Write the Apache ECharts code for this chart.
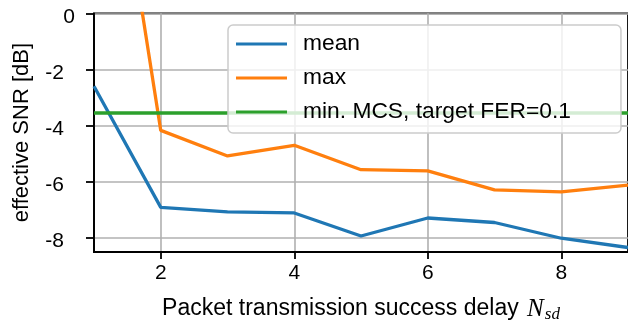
<!DOCTYPE html>
<html>
<head>
<meta charset="utf-8">
<script src="https://cdn.jsdelivr.net/npm/echarts@6/dist/echarts.min.js"></script>
<style>
html,body{margin:0;padding:0;background:#fff;}
#chart{width:628px;height:322px;}
</style>
</head>
<body>
<div id="chart"></div>
<script>
const xValues = [1, 2, 3, 4, 5, 6, 7, 8, 9];
const meanValues = [-2.60, -6.91, -7.07, -7.11, -7.93, -7.29, -7.45, -8.01, -8.34];
const maxValues = [11.0, -4.17, -5.08, -4.70, -5.57, -5.61, -6.29, -6.36, -6.12];
const thresholdValue = -3.55;
const xTicks = [2, 4, 6, 8];
const yTicks = [-8, -6, -4, -2, 0];
const seriesNames = ['mean', 'max', 'min. MCS, target FER=0.1'];
const xMin = 1, xMax = 9, yMin = -8.5, yMax = 0;

const FONT = '"Liberation Sans", Arial, Helvetica, sans-serif';
const chart = echarts.init(document.getElementById('chart'), null, {renderer: 'canvas'});

const meanData = xValues.map((x, i) => [x, meanValues[i]]);
const maxData = xValues.map((x, i) => [x, maxValues[i]]);
const thrData = xValues.map(x => [x, thresholdValue]);

chart.setOption({
  animation: false,
  backgroundColor: '#fff',
  textStyle: {fontFamily: FONT},
  grid: {left: 94, right: 0, top: 13.3, bottom: 70, containLabel: false, outerBoundsMode: 'none',
         show: true, borderColor: '#000', borderWidth: 1.8, backgroundColor: 'transparent'},
  legend: {
    orient: 'vertical', left: 228, top: 25,
    padding: [7, 50, 9, 8], itemGap: 10, itemWidth: 51, itemHeight: 3,
    icon: 'rect',
    backgroundColor: 'rgba(255,255,255,0.8)', borderColor: '#cccccc', borderWidth: 1.5, borderRadius: 5,
    textStyle: {fontFamily: FONT, fontSize: 22.8, color: '#000', lineHeight: 24, padding: [0, 0, 0, 11]},
    data: seriesNames
  },
  xAxis: {
    type: 'value', min: xMin, max: xMax,
    name: '{a|Packet transmission success delay }{n|N}{s|sd}',
    nameLocation: 'middle', nameGap: 44,
    nameTextStyle: {
      rich: {
        a: {fontFamily: FONT, fontSize: 23, color: '#000', lineHeight: 26},
        n: {fontFamily: '"Liberation Serif", "DejaVu Serif", serif', fontStyle: 'italic', fontSize: 25, color: '#000', lineHeight: 26, padding: [0, 1, 0, 2]},
        s: {fontFamily: '"Liberation Serif", "DejaVu Serif", serif', fontStyle: 'italic', fontSize: 17, color: '#000', lineHeight: 16, padding: [12, 0, 0, 0]}
      }
    },
    axisLine: {show: true, onZero: false, lineStyle: {color: '#000', width: 1.8}},
    axisTick: {show: true, length: 7, lineStyle: {color: '#000', width: 1.8}, customValues: xTicks},
    axisLabel: {fontFamily: FONT, fontSize: 21, color: '#000', margin: 11, customValues: xTicks, formatter: v => String(v)},
    splitLine: {show: true, lineStyle: {color: '#b0b0b0', width: 1.6}}
  },
  yAxis: {
    type: 'value', min: yMin, max: yMax,
    name: 'effective SNR [dB]', nameLocation: 'middle', nameGap: 61,
    nameTextStyle: {fontFamily: FONT, fontSize: 22, color: '#000', lineHeight: 23},
    axisLine: {show: true, onZero: false, lineStyle: {color: '#000', width: 1.8}},
    axisTick: {show: true, length: 8, lineStyle: {color: '#000', width: 1.8}, customValues: yTicks},
    axisLabel: {
      fontFamily: FONT, fontSize: 21, color: '#000', margin: 19, customValues: yTicks,
      padding: [7, 0, 0, 0],
      formatter: v => (v === 0 ? '0' : '{n|' + v + '}'),
      rich: {n: {fontFamily: FONT, fontSize: 21, color: '#000', padding: [0, 11, 0, 0]}}
    },
    splitLine: {show: true, lineStyle: {color: '#b0b0b0', width: 1.6}}
  },
  series: [
    {name: seriesNames[0], type: 'line', data: meanData, showSymbol: false, symbol: 'none', color: '#1f77b4', lineStyle: {width: 3.3, color: '#1f77b4'}, clip: true, z: 3},
    {name: seriesNames[1], type: 'line', data: maxData, showSymbol: false, symbol: 'none', color: '#ff7f0e', lineStyle: {width: 3.3, color: '#ff7f0e'}, clip: true, z: 3},
    {name: seriesNames[2], type: 'line', data: thrData, showSymbol: false, symbol: 'none', color: '#2ca02c', lineStyle: {width: 3.3, color: '#2ca02c'}, clip: true, z: 3}
  ]
});
</script>
</body>
</html>
